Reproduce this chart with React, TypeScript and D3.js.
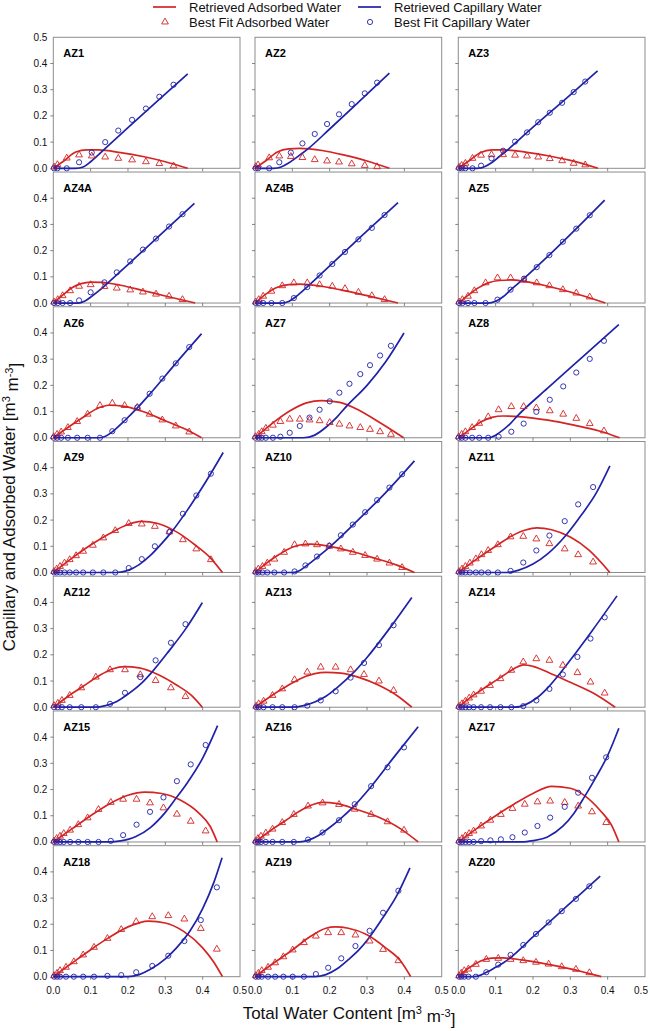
import React from "react";
import * as d3 from "d3";

type Pt = [number, number];

// ---- data ----
const panelLabels = [
  "AZ1", "AZ2", "AZ3", "AZ4A", "AZ4B", "AZ5", "AZ6", "AZ7", "AZ8", "AZ9", "AZ10",
  "AZ11", "AZ12", "AZ13", "AZ14", "AZ15", "AZ16", "AZ17", "AZ18", "AZ19", "AZ20",
];

// total water content of the best-fit points, one list per panel
const fitX: number[][] = [
  [0.002, 0.011, 0.036, 0.069, 0.103, 0.139, 0.174, 0.211, 0.248, 0.284, 0.322],
  [0.002, 0.008, 0.038, 0.065, 0.096, 0.127, 0.16, 0.193, 0.225, 0.259, 0.294, 0.327],
  [0.002, 0.009, 0.019, 0.038, 0.061, 0.089, 0.12, 0.152, 0.184, 0.214, 0.245, 0.278, 0.309, 0.34],
  [0.002, 0.012, 0.025, 0.045, 0.069, 0.1, 0.137, 0.17, 0.206, 0.24, 0.275, 0.31, 0.346],
  [0.002, 0.01, 0.022, 0.044, 0.073, 0.104, 0.14, 0.173, 0.207, 0.241, 0.277, 0.313, 0.347],
  [0.002, 0.011, 0.026, 0.043, 0.073, 0.105, 0.14, 0.176, 0.21, 0.244, 0.28, 0.316, 0.352],
  [0.001, 0.01, 0.021, 0.039, 0.064, 0.092, 0.125, 0.158, 0.191, 0.225, 0.258, 0.292, 0.328, 0.364],
  [0.001, 0.01, 0.018, 0.029, 0.048, 0.068, 0.093, 0.12, 0.146, 0.173, 0.2, 0.226, 0.253, 0.282, 0.308, 0.335, 0.364],
  [0.001, 0.009, 0.019, 0.037, 0.056, 0.08, 0.108, 0.142, 0.175, 0.209, 0.245, 0.281, 0.316, 0.352, 0.39],
  [0.002, 0.009, 0.018, 0.03, 0.044, 0.061, 0.08, 0.106, 0.134, 0.166, 0.202, 0.237, 0.272, 0.311, 0.347, 0.383, 0.422],
  [0.002, 0.009, 0.02, 0.033, 0.052, 0.078, 0.106, 0.135, 0.166, 0.199, 0.23, 0.262, 0.295, 0.327, 0.36, 0.394],
  [0.002, 0.01, 0.019, 0.031, 0.047, 0.062, 0.08, 0.106, 0.14, 0.174, 0.209, 0.244, 0.285, 0.321, 0.361],
  [0.002, 0.012, 0.023, 0.044, 0.075, 0.114, 0.152, 0.192, 0.233, 0.274, 0.315, 0.354],
  [0.003, 0.01, 0.023, 0.047, 0.073, 0.106, 0.14, 0.176, 0.216, 0.256, 0.292, 0.332, 0.371],
  [0.002, 0.01, 0.019, 0.029, 0.041, 0.061, 0.085, 0.113, 0.142, 0.174, 0.209, 0.244, 0.28, 0.319, 0.354, 0.392],
  [0.002, 0.009, 0.018, 0.028, 0.045, 0.067, 0.092, 0.121, 0.154, 0.187, 0.223, 0.259, 0.295, 0.331, 0.368, 0.408],
  [0.002, 0.008, 0.016, 0.029, 0.047, 0.073, 0.104, 0.142, 0.181, 0.225, 0.267, 0.311, 0.355, 0.399],
  [0.002, 0.01, 0.019, 0.029, 0.041, 0.061, 0.086, 0.114, 0.145, 0.178, 0.212, 0.246, 0.285, 0.321, 0.358, 0.396],
  [0.002, 0.01, 0.018, 0.034, 0.055, 0.08, 0.109, 0.145, 0.182, 0.222, 0.265, 0.308, 0.351, 0.395, 0.438],
  [0.002, 0.009, 0.018, 0.035, 0.054, 0.076, 0.101, 0.131, 0.163, 0.196, 0.231, 0.269, 0.307, 0.343, 0.384],
  [0.002, 0.008, 0.016, 0.027, 0.047, 0.075, 0.107, 0.14, 0.174, 0.208, 0.242, 0.277, 0.315, 0.351],
];

const adsorbedFit: number[][] = [
  [0.005, 0.014, 0.039, 0.051, 0.047, 0.043, 0.038, 0.032, 0.025, 0.018, 0.009],
  [0.006, 0.013, 0.04, 0.047, 0.045, 0.041, 0.033, 0.028, 0.024, 0.017, 0.011, 0.006],
  [0.004, 0.011, 0.019, 0.038, 0.05, 0.052, 0.052, 0.05, 0.047, 0.043, 0.037, 0.029, 0.019, 0.013],
  [0.004, 0.013, 0.028, 0.047, 0.064, 0.07, 0.063, 0.057, 0.05, 0.042, 0.034, 0.026, 0.013],
  [0.004, 0.013, 0.026, 0.045, 0.066, 0.077, 0.077, 0.07, 0.064, 0.055, 0.041, 0.028, 0.013],
  [0.004, 0.013, 0.026, 0.047, 0.077, 0.096, 0.096, 0.087, 0.077, 0.066, 0.051, 0.038, 0.023],
  [0.004, 0.013, 0.022, 0.039, 0.062, 0.09, 0.123, 0.132, 0.123, 0.116, 0.09, 0.068, 0.045, 0.022],
  [0.004, 0.013, 0.023, 0.036, 0.048, 0.062, 0.071, 0.071, 0.068, 0.065, 0.058, 0.052, 0.045, 0.039, 0.032, 0.023, 0.013],
  [0.004, 0.013, 0.023, 0.039, 0.055, 0.08, 0.107, 0.119, 0.119, 0.114, 0.103, 0.09, 0.074, 0.054, 0.026],
  [0.004, 0.013, 0.023, 0.036, 0.049, 0.064, 0.081, 0.104, 0.132, 0.16, 0.187, 0.185, 0.176, 0.155, 0.125, 0.09, 0.049],
  [0.004, 0.013, 0.023, 0.036, 0.051, 0.077, 0.106, 0.109, 0.106, 0.1, 0.09, 0.077, 0.065, 0.051, 0.036, 0.019],
  [0.004, 0.013, 0.023, 0.036, 0.052, 0.068, 0.084, 0.106, 0.136, 0.138, 0.128, 0.11, 0.09, 0.068, 0.04],
  [0.006, 0.015, 0.026, 0.045, 0.074, 0.115, 0.143, 0.143, 0.124, 0.102, 0.074, 0.041],
  [0.004, 0.013, 0.023, 0.045, 0.07, 0.105, 0.134, 0.153, 0.153, 0.143, 0.125, 0.1, 0.064],
  [0.004, 0.013, 0.023, 0.035, 0.047, 0.061, 0.083, 0.109, 0.141, 0.173, 0.185, 0.179, 0.16, 0.132, 0.096, 0.054],
  [0.004, 0.013, 0.022, 0.032, 0.045, 0.066, 0.092, 0.124, 0.151, 0.163, 0.163, 0.149, 0.13, 0.106, 0.079, 0.042],
  [0.004, 0.013, 0.022, 0.034, 0.049, 0.074, 0.105, 0.137, 0.149, 0.143, 0.125, 0.105, 0.077, 0.045],
  [0.004, 0.013, 0.023, 0.032, 0.042, 0.061, 0.083, 0.105, 0.128, 0.144, 0.153, 0.156, 0.151, 0.137, 0.115, 0.074],
  [0.004, 0.013, 0.023, 0.036, 0.057, 0.083, 0.112, 0.146, 0.18, 0.21, 0.229, 0.233, 0.22, 0.184, 0.105],
  [0.004, 0.013, 0.023, 0.036, 0.053, 0.076, 0.102, 0.13, 0.155, 0.168, 0.168, 0.159, 0.136, 0.104, 0.061],
  [0.004, 0.013, 0.023, 0.029, 0.047, 0.066, 0.07, 0.066, 0.061, 0.055, 0.048, 0.038, 0.028, 0.015],
];

const capillaryFit: number[][] = [
  [0, 0, 0, 0.023, 0.06, 0.1, 0.144, 0.185, 0.228, 0.273, 0.319],
  [0, 0, 0, 0.023, 0.06, 0.095, 0.131, 0.169, 0.206, 0.245, 0.286, 0.327],
  [0, 0, 0, 0, 0.01, 0.038, 0.067, 0.102, 0.137, 0.176, 0.212, 0.25, 0.291, 0.331],
  [0, 0, 0, 0, 0.01, 0.041, 0.079, 0.117, 0.159, 0.204, 0.246, 0.292, 0.339],
  [0, 0, 0, 0, 0, 0.019, 0.061, 0.105, 0.149, 0.195, 0.243, 0.287, 0.336],
  [0, 0, 0, 0, 0, 0.013, 0.051, 0.093, 0.137, 0.183, 0.234, 0.284, 0.335],
  [0, 0, 0, 0, 0, 0, 0, 0.025, 0.067, 0.116, 0.168, 0.226, 0.284, 0.346],
  [0, 0, 0, 0, 0, 0.004, 0.019, 0.045, 0.077, 0.107, 0.139, 0.172, 0.206, 0.243, 0.277, 0.314, 0.351],
  [0, 0, 0, 0, 0, 0, 0.004, 0.023, 0.054, 0.099, 0.145, 0.196, 0.249, 0.301, 0.37],
  [0, 0, 0, 0, 0, 0, 0, 0, 0, 0, 0.017, 0.051, 0.1, 0.155, 0.224, 0.294, 0.377],
  [0, 0, 0, 0, 0, 0, 0.004, 0.027, 0.061, 0.102, 0.142, 0.183, 0.23, 0.276, 0.324, 0.375],
  [0, 0, 0, 0, 0, 0, 0, 0, 0.006, 0.038, 0.084, 0.141, 0.196, 0.26, 0.326],
  [0, 0, 0, 0, 0, 0, 0.013, 0.055, 0.115, 0.179, 0.246, 0.317],
  [0, 0, 0, 0, 0, 0, 0.006, 0.026, 0.061, 0.113, 0.169, 0.237, 0.313],
  [0, 0, 0, 0, 0, 0, 0, 0, 0, 0.004, 0.026, 0.07, 0.125, 0.192, 0.262, 0.343],
  [0, 0, 0, 0, 0, 0, 0, 0, 0.004, 0.026, 0.066, 0.115, 0.17, 0.232, 0.296, 0.37],
  [0, 0, 0, 0, 0, 0, 0, 0.009, 0.036, 0.083, 0.144, 0.213, 0.285, 0.361],
  [0, 0, 0, 0, 0, 0.003, 0.006, 0.01, 0.018, 0.036, 0.061, 0.093, 0.134, 0.188, 0.245, 0.323],
  [0, 0, 0, 0, 0, 0, 0, 0.003, 0.006, 0.017, 0.041, 0.08, 0.136, 0.216, 0.341],
  [0, 0, 0, 0, 0, 0, 0, 0, 0.01, 0.034, 0.07, 0.117, 0.175, 0.244, 0.328],
  [0, 0, 0, 0, 0, 0.017, 0.046, 0.083, 0.121, 0.163, 0.207, 0.25, 0.297, 0.345],
];

// retrieved curves (total water content, water)
const adsorbedCurve: Pt[][] = [
  [[0, 0], [0.03, 0.03], [0.06, 0.062], [0.09, 0.07], [0.12, 0.07], [0.18, 0.06], [0.24, 0.045], [0.3, 0.025], [0.36, 0]],
  [[0, 0], [0.03, 0.03], [0.06, 0.062], [0.09, 0.074], [0.12, 0.076], [0.18, 0.068], [0.24, 0.05], [0.3, 0.028], [0.36, 0]],
  [[0, 0], [0.03, 0.03], [0.06, 0.06], [0.09, 0.07], [0.12, 0.07], [0.18, 0.062], [0.24, 0.048], [0.3, 0.03], [0.374, 0]],
  [[0, 0], [0.025, 0.03], [0.05, 0.058], [0.075, 0.074], [0.1, 0.08], [0.13, 0.079], [0.18, 0.068], [0.24, 0.048], [0.3, 0.027], [0.38, 0]],
  [[0, 0], [0.03, 0.035], [0.06, 0.06], [0.09, 0.07], [0.12, 0.072], [0.17, 0.066], [0.23, 0.05], [0.3, 0.028], [0.383, 0]],
  [[0, 0], [0.025, 0.028], [0.05, 0.055], [0.08, 0.077], [0.11, 0.086], [0.14, 0.088], [0.18, 0.082], [0.24, 0.064], [0.3, 0.042], [0.394, 0]],
  [[0, 0], [0.04, 0.04], [0.08, 0.078], [0.115, 0.11], [0.15, 0.124], [0.19, 0.12], [0.24, 0.1], [0.3, 0.065], [0.35, 0.035], [0.397, 0]],
  [[0, 0], [0.049, 0.058], [0.094, 0.103], [0.138, 0.133], [0.178, 0.142], [0.227, 0.135], [0.281, 0.103], [0.334, 0.058], [0.398, 0]],
  [[0, 0], [0.03, 0.03], [0.06, 0.06], [0.09, 0.078], [0.12, 0.083], [0.17, 0.08], [0.24, 0.067], [0.31, 0.048], [0.38, 0.025], [0.432, 0]],
  [[0, 0], [0.05, 0.055], [0.1, 0.105], [0.15, 0.148], [0.2, 0.183], [0.235, 0.195], [0.28, 0.187], [0.33, 0.155], [0.38, 0.105], [0.42, 0.057], [0.453, 0]],
  [[0, 0], [0.03, 0.035], [0.06, 0.065], [0.09, 0.09], [0.12, 0.105], [0.15, 0.108], [0.2, 0.1], [0.26, 0.08], [0.32, 0.055], [0.38, 0.028], [0.427, 0]],
  [[0, 0], [0.05, 0.052], [0.1, 0.1], [0.14, 0.137], [0.18, 0.162], [0.21, 0.17], [0.25, 0.163], [0.3, 0.135], [0.35, 0.085], [0.406, 0]],
  [[0, 0], [0.04, 0.042], [0.08, 0.08], [0.12, 0.118], [0.16, 0.147], [0.19, 0.155], [0.23, 0.15], [0.28, 0.125], [0.33, 0.085], [0.37, 0.045], [0.399, 0]],
  [[0, 0], [0.04, 0.04], [0.08, 0.076], [0.12, 0.108], [0.16, 0.128], [0.19, 0.133], [0.23, 0.13], [0.28, 0.113], [0.33, 0.085], [0.38, 0.045], [0.42, 0]],
  [[0, 0], [0.04, 0.045], [0.08, 0.083], [0.12, 0.12], [0.15, 0.148], [0.175, 0.162], [0.2, 0.156], [0.25, 0.127], [0.3, 0.095], [0.36, 0.055], [0.42, 0]],
  [[0, 0], [0.05, 0.05], [0.1, 0.1], [0.15, 0.145], [0.2, 0.178], [0.245, 0.19], [0.29, 0.185], [0.34, 0.16], [0.39, 0.11], [0.42, 0.06], [0.439, 0]],
  [[0, 0], [0.04, 0.042], [0.08, 0.08], [0.12, 0.118], [0.15, 0.14], [0.18, 0.151], [0.22, 0.146], [0.27, 0.125], [0.33, 0.095], [0.39, 0.05], [0.437, 0]],
  [[0, 0], [0.05, 0.052], [0.1, 0.1], [0.15, 0.145], [0.2, 0.185], [0.25, 0.212], [0.3, 0.205], [0.34, 0.175], [0.38, 0.12], [0.41, 0.065], [0.43, 0]],
  [[0, 0], [0.05, 0.052], [0.1, 0.103], [0.15, 0.15], [0.2, 0.19], [0.255, 0.212], [0.3, 0.205], [0.35, 0.172], [0.4, 0.11], [0.43, 0.055], [0.453, 0]],
  [[0, 0], [0.05, 0.052], [0.1, 0.102], [0.15, 0.155], [0.19, 0.185], [0.215, 0.19], [0.25, 0.185], [0.3, 0.16], [0.35, 0.11], [0.39, 0.06], [0.417, 0]],
  [[0, 0], [0.03, 0.035], [0.06, 0.06], [0.09, 0.071], [0.12, 0.072], [0.17, 0.064], [0.23, 0.05], [0.3, 0.03], [0.383, 0]],
];

const capillaryCurve: Pt[][] = [
  [[0, 0], [0.06, 0], [0.08, 0.005], [0.1, 0.025], [0.12, 0.05], [0.14, 0.077], [0.2, 0.155], [0.28, 0.258], [0.36, 0.36]],
  [[0, 0], [0.05, 0], [0.07, 0.005], [0.09, 0.02], [0.11, 0.04], [0.14, 0.072], [0.2, 0.15], [0.28, 0.256], [0.36, 0.363]],
  [[0, 0], [0.05, 0], [0.07, 0.006], [0.09, 0.022], [0.11, 0.045], [0.13, 0.068], [0.2, 0.157], [0.29, 0.268], [0.373, 0.372]],
  [[0, 0], [0.065, 0], [0.085, 0.008], [0.105, 0.028], [0.125, 0.05], [0.147, 0.078], [0.2, 0.147], [0.29, 0.265], [0.378, 0.38]],
  [[0, 0], [0.07, 0], [0.09, 0.006], [0.11, 0.025], [0.14, 0.062], [0.2, 0.142], [0.29, 0.262], [0.383, 0.383]],
  [[0, 0], [0.08, 0], [0.1, 0.007], [0.12, 0.024], [0.14, 0.05], [0.176, 0.094], [0.244, 0.184], [0.316, 0.284], [0.392, 0.393]],
  [[0, 0], [0.12, 0], [0.14, 0.006], [0.16, 0.025], [0.19, 0.064], [0.225, 0.114], [0.258, 0.166], [0.328, 0.284], [0.397, 0.397]],
  [[0, 0], [0.13, 0], [0.16, 0.01], [0.19, 0.04], [0.22, 0.08], [0.245, 0.12], [0.3, 0.2], [0.35, 0.29], [0.399, 0.4]],
  [[0, 0], [0.08, 0], [0.1, 0.01], [0.12, 0.03], [0.14, 0.055], [0.156, 0.08], [0.24, 0.19], [0.33, 0.305], [0.43, 0.432]],
  [[0, 0], [0.17, 0], [0.2, 0.008], [0.23, 0.03], [0.26, 0.065], [0.29, 0.11], [0.318, 0.157], [0.36, 0.24], [0.41, 0.35], [0.455, 0.458]],
  [[0, 0], [0.1, 0], [0.12, 0.008], [0.14, 0.028], [0.17, 0.062], [0.202, 0.1], [0.27, 0.192], [0.35, 0.305], [0.427, 0.426]],
  [[0, 0], [0.13, 0], [0.16, 0.008], [0.2, 0.032], [0.24, 0.072], [0.29, 0.145], [0.33, 0.22], [0.37, 0.305], [0.406, 0.407]],
  [[0, 0], [0.11, 0], [0.14, 0.006], [0.17, 0.022], [0.2, 0.05], [0.235, 0.09], [0.266, 0.137], [0.31, 0.215], [0.355, 0.3], [0.399, 0.399]],
  [[0, 0], [0.1, 0], [0.13, 0.006], [0.16, 0.02], [0.19, 0.042], [0.22, 0.075], [0.259, 0.125], [0.3, 0.19], [0.36, 0.3], [0.42, 0.419]],
  [[0, 0], [0.15, 0], [0.18, 0.01], [0.21, 0.035], [0.24, 0.075], [0.27, 0.125], [0.3, 0.18], [0.36, 0.295], [0.425, 0.425]],
  [[0, 0], [0.15, 0], [0.18, 0.004], [0.22, 0.02], [0.26, 0.055], [0.3, 0.113], [0.325, 0.16], [0.36, 0.228], [0.4, 0.32], [0.44, 0.444]],
  [[0, 0], [0.12, 0], [0.145, 0.008], [0.17, 0.025], [0.2, 0.055], [0.23, 0.09], [0.259, 0.128], [0.31, 0.21], [0.37, 0.32], [0.437, 0.44]],
  [[0, 0], [0.17, 0], [0.2, 0.005], [0.24, 0.02], [0.28, 0.06], [0.31, 0.11], [0.337, 0.17], [0.37, 0.25], [0.4, 0.33], [0.43, 0.434]],
  [[0, 0], [0.2, 0], [0.23, 0.008], [0.26, 0.028], [0.3, 0.068], [0.33, 0.11], [0.366, 0.174], [0.4, 0.26], [0.43, 0.36], [0.452, 0.454]],
  [[0, 0], [0.16, 0], [0.19, 0.008], [0.22, 0.03], [0.25, 0.065], [0.28, 0.105], [0.304, 0.146], [0.34, 0.22], [0.38, 0.31], [0.415, 0.415]],
  [[0, 0], [0.04, 0], [0.06, 0.006], [0.08, 0.02], [0.1, 0.036], [0.12, 0.052], [0.14, 0.073], [0.2, 0.152], [0.29, 0.268], [0.38, 0.384]],
];

const xTicks = [0, 0.1, 0.2, 0.3, 0.4, 0.5];
const yTicks = [0, 0.1, 0.2, 0.3, 0.4, 0.5];

const legendItems = [
  { label: "Retrieved Adsorbed Water", kind: "line", color: "red" },
  { label: "Retrieved Capillary Water", kind: "line", color: "blue" },
  { label: "Best Fit Adsorbed Water", kind: "triangle", color: "red" },
  { label: "Best Fit Capillary Water", kind: "circle", color: "blue" },
];

// ---- layout ----
const W = 650;
const H = 1031;
const RED = "#d42424";
const BLUE = "#1f22a8";
const FRAME = "#8c8c8c";
const FONT = "'Liberation Sans', Arial, Helvetica, sans-serif";

const colLeft = [53.3, 255, 458.3];
const panelW = 186.7;
const panelH = 131;
const firstBase = 168.3;
const rowStep = 134.73;

const fmt = d3.format(".1f");
const triPath = d3.symbol().type(d3.symbolTriangle).size(20)() || "";

function Panel({ index }: { index: number }) {
  const col = index % 3;
  const row = Math.floor(index / 3);
  const left = colLeft[col];
  const base = firstBase + row * rowStep;

  const x = d3.scaleLinear().domain([0, 0.5]).range([left, left + panelW]);
  const y = d3.scaleLinear().domain([0, 0.5]).range([base, base - panelH]);
  const line = d3.line<Pt>()
    .x((d) => x(d[0]))
    .y((d) => y(d[1]))
    .curve(d3.curveMonotoneX);

  const xs = fitX[index];
  const yLabels = row === 0 ? yTicks : yTicks.slice(0, -1);

  return (
    <g>
      <rect x={left} y={base - panelH} width={panelW} height={panelH} fill="white" stroke={FRAME} strokeWidth={1} />
      {xTicks.slice(1, -1).map((t) => (
        <line key={"xt" + t} x1={x(t)} x2={x(t)} y1={base} y2={base + 3} stroke="#666" strokeWidth={0.8} />
      ))}
      {yTicks.slice(1, -1).map((t) => (
        <line key={"yt" + t} x1={left - 3} x2={left} y1={y(t)} y2={y(t)} stroke="#666" strokeWidth={0.8} />
      ))}

      {col === 0 && yLabels.map((t) => (
        <text key={"yl" + t} x={left - 6} y={y(t)} dy="0.35em" textAnchor="end" fontSize={10} fontFamily={FONT} fill="#111">
          {fmt(t)}
        </text>
      ))}
      {row === 6 && xTicks.map((t) => (
        <text key={"xl" + t} x={Math.min(x(t), W - 9)} y={993.5} textAnchor="middle" fontSize={10} fontFamily={FONT} fill="#111">
          {fmt(t)}
        </text>
      ))}

      <text x={left + 10} y={base - panelH + 20} fontSize={11} fontWeight="bold" fontFamily={FONT} fill="#000">
        {panelLabels[index]}
      </text>

      <path d={line(adsorbedCurve[index]) || ""} fill="none" stroke={RED} strokeWidth={1.7} />
      <path d={line(capillaryCurve[index]) || ""} fill="none" stroke={BLUE} strokeWidth={1.7} />

      {xs.map((v, i) => (
        <path key={"a" + i} d={triPath} transform={`translate(${x(v)},${y(adsorbedFit[index][i])})`}
          fill="none" stroke={RED} strokeWidth={0.9} />
      ))}
      {xs.map((v, i) => (
        <circle key={"c" + i} cx={x(v)} cy={y(capillaryFit[index][i])} r={2.6}
          fill="none" stroke={BLUE} strokeWidth={0.9} />
      ))}
    </g>
  );
}

function Legend() {
  const colText = [189, 394];
  const rowY = [7, 22];
  return (
    <g fontFamily={FONT} fontSize={13} fill="#111">
      {legendItems.map((item, i) => {
        const c = i % 2;
        const r = Math.floor(i / 2);
        const tx = colText[c];
        const cy = rowY[r];
        const color = item.color === "red" ? RED : BLUE;
        const mx = tx - 24;
        return (
          <g key={item.label}>
            {item.kind === "line" && (
              <line x1={tx - 36} x2={tx - 13} y1={cy} y2={cy} stroke={color} strokeWidth={1.7} />
            )}
            {item.kind === "triangle" && (
              <path d={triPath} transform={`translate(${mx},${cy})`} fill="none" stroke={color} strokeWidth={0.9} />
            )}
            {item.kind === "circle" && (
              <circle cx={mx} cy={cy} r={2.6} fill="none" stroke={color} strokeWidth={0.9} />
            )}
            <text x={tx} y={cy} dy="0.36em">{item.label}</text>
          </g>
        );
      })}
    </g>
  );
}

export default function App() {
  return (
    <svg width={W} height={H} style={{ position: "absolute", left: 0, top: 0, background: "white" }}>
      <Legend />
      {panelLabels.map((_, i) => <Panel key={i} index={i} />)}

      <text transform="translate(15,507) rotate(-90)" textAnchor="middle" fontSize={17} fontFamily={FONT} fill="#111">
        Capillary and Adsorbed Water [m<tspan dy="-0.5em" fontSize={11}>3</tspan>
        <tspan dy="0.5em"> m</tspan><tspan dy="-0.5em" fontSize={11}>-3</tspan><tspan dy="0.5em">]</tspan>
      </text>
      <text x={349} y={1019} textAnchor="middle" fontSize={17} fontFamily={FONT} fill="#111">
        Total Water Content [m<tspan dy="-0.5em" fontSize={11}>3</tspan>
        <tspan dy="0.5em"> m</tspan><tspan dy="-0.5em" fontSize={11}>-3</tspan><tspan dy="0.5em">]</tspan>
      </text>
    </svg>
  );
}
